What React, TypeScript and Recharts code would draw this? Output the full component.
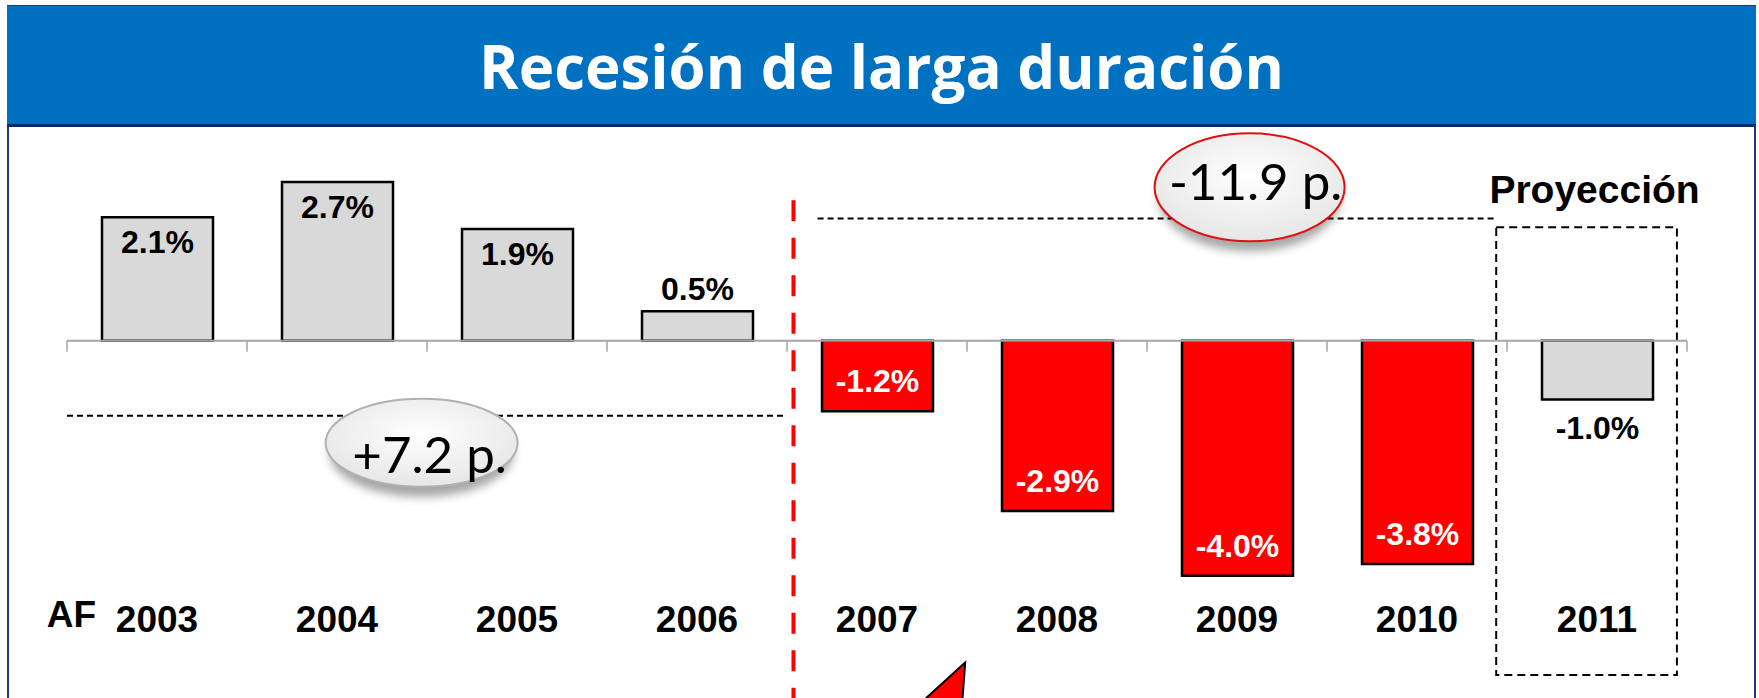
import React from 'react';
import {
  ComposedChart,
  Bar,
  Cell,
  XAxis,
  YAxis,
  LabelList,
  Label,
  ReferenceLine,
  ReferenceArea,
  ReferenceDot,
} from 'recharts';

// data
const years = ['2003', '2004', '2005', '2006', '2007', '2008', '2009', '2010', '2011'];
const growth = [2.1, 2.7, 1.9, 0.5, -1.2, -2.9, -4.0, -3.8, -1.0];
const recessionYears = ['2007', '2008', '2009', '2010'];
const title = 'Recesión de larga duración';
const axisTitle = 'AF';
const projectionTitle = 'Proyección';
const gapBefore = '+7.2 p.';
const gapAfter = '-11.9 p.';

const data = years.map((year, i) => ({ year, value: growth[i] }));

const W = 1759;
const H = 698;
const BOLD = { fontFamily: '"Liberation Sans", Arial, sans-serif', fontWeight: 700 };

const fmt = (v: number) => `${v.toFixed(1)}%`;
// continuous position of a category: band i spans [i, i + 1]
const slot = (d: { year: string }) => years.indexOf(d.year) + 0.5;

const BarValue = (props: any) => {
  const vb = props.viewBox ?? props;
  const { x, y, width, height } = vb;
  const value = Number(props.value);
  const idx = props.index ?? growth.indexOf(value);
  const year = years[idx];
  const top = Math.min(y, y + height);
  const bottom = Math.max(y, y + height);
  const cx = x + width / 2;
  let ty = top + 36;
  let fill = '#000';
  if (value >= 0 && value < 1) ty = top - 11;
  else if (value < 0 && recessionYears.includes(year)) {
    ty = bottom - 19;
    fill = '#fff';
  } else if (value < 0) ty = bottom + 40;
  return (
    <text x={cx} y={ty} textAnchor="middle" fill={fill} style={{ ...BOLD, fontSize: 32 }}>
      {fmt(value)}
    </text>
  );
};

const YearTick = ({ x, y, payload }: any) => (
  <text x={x} y={y + 27} textAnchor="middle" fill="#000" style={{ ...BOLD, fontSize: 37 }}>
    {payload.value}
  </text>
);

const AxisTitle = (props: any) => {
  const vb = props.viewBox ?? props;
  return (
    <text x={vb.x + 29} y={vb.y + 22} textAnchor="end" fill="#000" style={{ ...BOLD, fontSize: 37 }}>
      {axisTitle}
    </text>
  );
};

const ZeroAxis = (props: any) => {
  const { x1, y1, x2 } = props;
  const n = years.length;
  const step = (x2 - x1) / n;
  return (
    <g>
      <line x1={x1} y1={y1} x2={x2} y2={y1} stroke="#a6a6a6" strokeWidth={2} />
      {Array.from({ length: n + 1 }, (_, i) => (
        <line key={i} x1={x1 + i * step} y1={y1} x2={x1 + i * step} y2={y1 + 11} stroke="#a6a6a6" strokeWidth={1.5} />
      ))}
    </g>
  );
};

const bubble = (text: string, rx: number, ry: number, stroke: string, id: string, dx: number, dy: number) => (props: any) => {
  const { cx, cy } = props;
  return (
    <g>
      <defs>
        <radialGradient id={`g-${id}`} cx="50%" cy="40%" r="60%">
          <stop offset="0%" stopColor="#ffffff" />
          <stop offset="100%" stopColor="#e6e6e6" />
        </radialGradient>
        <filter id={`s-${id}`} x="-30%" y="-30%" width="160%" height="180%">
          <feGaussianBlur stdDeviation="5" />
        </filter>
      </defs>
      <ellipse cx={cx} cy={cy + 10} rx={rx - 4} ry={ry} fill="#000" opacity={0.35} filter={`url(#s-${id})`} />
      <ellipse cx={cx} cy={cy} rx={rx} ry={ry} fill={`url(#g-${id})`} stroke={stroke} strokeWidth={2} />
      <text x={cx + dx} y={cy + dy} textAnchor="middle" fill="#000" style={{ fontFamily: 'Lato, sans-serif', fontSize: 51 }}>
        {text}
      </text>
    </g>
  );
};

const Arrow = (props: any) => {
  const { cx, cy } = props;
  return (
    <polygon
      points={`${cx},${cy} ${cx - 44},${cy + 40} ${cx - 3},${cy + 40}`}
      fill="#ff0000"
      stroke="#000"
      strokeWidth={2}
    />
  );
};

const ProjectionLabel = (props: any) => {
  const vb = props.viewBox ?? props;
  return (
    <text x={vb.x + vb.width / 2 + 8} y={vb.y - 24} textAnchor="middle" fill="#000" style={{ ...BOLD, fontSize: 39 }}>
      {projectionTitle}
    </text>
  );
};

export default function App() {
  return (
    <div
      style={{
        position: 'fixed',
        left: 0,
        top: 0,
        width: W,
        height: H,
        overflow: 'hidden',
        background: '#fff',
        fontFamily: '"Liberation Sans", Arial, sans-serif',
      }}
    >
      <div
        style={{
          position: 'absolute',
          left: 7,
          top: 5,
          width: 1749,
          height: H,
          boxSizing: 'border-box',
          borderLeft: '2px solid #1f3a7a',
          borderRight: '2px solid #1f3a7a',
          borderTop: '1px solid #1f3a7a',
        }}
      />
      <div
        style={{
          position: 'absolute',
          left: 7,
          top: 5,
          width: 1749,
          height: 122,
          boxSizing: 'border-box',
          background: '#0070c0',
          borderBottom: '3px solid #0a2a6a',
          borderTop: '1px solid #1f3a7a',
          color: '#fff',
          fontFamily: '"Open Sans", sans-serif',
          fontWeight: 700,
          fontSize: 60,
          lineHeight: '120px',
          textAlign: 'center',
        }}
      >
        {title}
      </div>
      <div style={{ position: 'absolute', left: 0, top: 0 }}>
        <ComposedChart width={W} height={H} data={data} margin={{ top: 135, right: 72, bottom: 33, left: 67 }}>
          <XAxis
            dataKey="year"
            axisLine={false}
            tickLine={false}
            tickSize={0}
            tickMargin={0}
            height={60}
            interval={0}
            tick={<YearTick />}
            label={<Label content={AxisTitle} />}
          />
          <XAxis xAxisId="pos" dataKey={slot} type="number" domain={[0, years.length]} allowDataOverflow hide />
          <YAxis hide domain={[-4.5, 3.5]} allowDataOverflow />
          <ReferenceArea
            xAxisId="pos"
            x1={7.94}
            x2={8.944}
            y1={1.93}
            y2={-5.69}
            fill="none"
            stroke="#000"
            strokeWidth={2}
            strokeDasharray="8 5"
            ifOverflow="visible"
            label={<Label content={ProjectionLabel} />}
          />
          <Bar dataKey="value" barSize={111} stroke="#000" strokeWidth={2.5} isAnimationActive={false}>
            {data.map((d) => (
              <Cell key={d.year} fill={recessionYears.includes(d.year) ? '#ff0000' : '#d9d9d9'} />
            ))}
            <LabelList dataKey="value" content={BarValue} />
          </Bar>
          <ReferenceLine y={0} shape={ZeroAxis} ifOverflow="visible" />
          <ReferenceDot
            xAxisId="pos"
            x={1.97}
            y={-1.74}
            r={1}
            ifOverflow="visible"
            shape={bubble(gapBefore, 96, 44, '#b0b0b0', 'a', 8, 30)}
          />
          <ReferenceDot
            xAxisId="pos"
            x={6.57}
            y={2.61}
            r={1}
            ifOverflow="visible"
            shape={bubble(gapAfter, 95, 54, '#e01010', 'b', 6, 13)}
          />
          <ReferenceLine
            xAxisId="pos"
            segment={[{ x: 0, y: -1.28 }, { x: 4.0, y: -1.28 }]}
            stroke="#000"
            strokeWidth={2}
            strokeDasharray="6 4"
            ifOverflow="visible"
          />
          <ReferenceLine
            xAxisId="pos"
            segment={[{ x: 4.17, y: 2.08 }, { x: 7.94, y: 2.08 }]}
            stroke="#000"
            strokeWidth={2}
            strokeDasharray="6 4"
            ifOverflow="visible"
          />
          <ReferenceLine
            xAxisId="pos"
            segment={[{ x: 4.036, y: 2.39 }, { x: 4.036, y: -6.1 }]}
            stroke="#ff0000"
            strokeWidth={4}
            strokeDasharray="21 16.5"
            ifOverflow="visible"
          />
          <ReferenceDot xAxisId="pos" x={4.99} y={-5.48} r={1} ifOverflow="visible" shape={Arrow} />
        </ComposedChart>
      </div>
    </div>
  );
}
